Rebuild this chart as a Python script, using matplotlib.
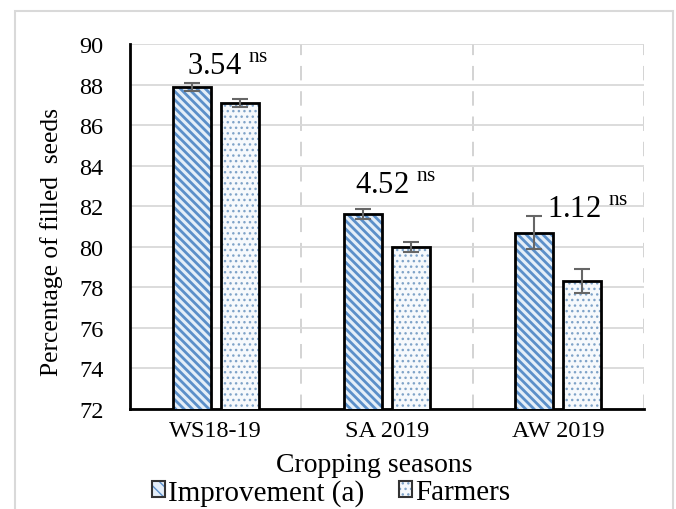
import matplotlib
matplotlib.use('Agg')
import matplotlib.pyplot as plt
import matplotlib.patches as mpatches
import numpy as np

# 数据
seasons = ['WS18-19', 'SA 2019', 'AW 2019']
improvement = [87.9, 81.6, 80.7]
improvement_err = [0.2, 0.25, 0.8]
farmers = [87.1, 80.0, 78.3]
farmers_err = [0.2, 0.25, 0.6]
t_values = ['3.54', '4.52', '1.12']
t_label_x = [0.07, 1.05, 2.17]
t_label_y = [88.9, 83.0, 81.85]

plt.rcParams['font.family'] = ['Liberation Serif', 'DejaVu Serif']
plt.rcParams['mathtext.fontset'] = 'custom'
plt.rcParams['mathtext.rm'] = 'Liberation Serif'

stripe_blue = '#5b8fc9'
dot_blue = '#7fa3c8'

fig = plt.figure(figsize=(6.76, 5.10), dpi=100)
ax = fig.add_axes([130 / 676, 1 - 410 / 510, 514 / 676, 365 / 510])

# 外框
fig.patches.append(mpatches.Rectangle((15 / 676, -0.1), 658 / 676, 1.1 - 12 / 510,
                                      transform=fig.transFigure, fill=False,
                                      edgecolor='#d9d9d9', linewidth=1.5))

x = np.arange(len(seasons))
w = 0.22
off = 0.14

# 先画阴影填充，再画黑色边框
with plt.rc_context({'hatch.linewidth': 2.0}):
    ax.bar(x - off, improvement, w, color='#e4eef8', edgecolor=stripe_blue,
           hatch='\\\\\\\\', linewidth=0, zorder=3)
    h1a = mpatches.Patch(facecolor='#e4eef8', edgecolor=stripe_blue, hatch='\\\\\\', linewidth=0)
with plt.rc_context({'hatch.linewidth': 1.0}):
    ax.bar(x + off, farmers, w, color='#f6f9fc', edgecolor=dot_blue,
           hatch='...', linewidth=0, zorder=3)
    h2a = mpatches.Patch(facecolor='#f6f9fc', edgecolor=dot_blue, hatch='...', linewidth=0)
ax.bar(x - off, improvement, w, fill=False, edgecolor='black', linewidth=2, zorder=4)
ax.bar(x + off, farmers, w, fill=False, edgecolor='black', linewidth=2, zorder=4)

ax.errorbar(x - off, improvement, yerr=improvement_err, fmt='none', ecolor='#666666',
            elinewidth=1.5, capsize=6, capthick=1.5, zorder=5)
ax.errorbar(x + off, farmers, yerr=farmers_err, fmt='none', ecolor='#666666',
            elinewidth=1.5, capsize=6, capthick=1.5, zorder=5)

for i in range(len(seasons)):
    ax.text(t_label_x[i], t_label_y[i], t_values[i] + r' $^{\mathrm{ns}}$',
            ha='center', va='center', fontsize=22, zorder=6)

ax.set_xlim(-0.5, 2.5)
ax.set_ylim(72, 90)
ax.set_yticks(np.arange(72, 91, 2))
ax.set_xticks(x)
ax.set_xticklabels(seasons)
ax.tick_params(axis='both', length=0, labelsize=17.5)
ax.tick_params(axis='x', pad=8)
ax.tick_params(axis='y', pad=19)

# 网格线
ax.grid(axis='y', color='#d9d9d9', linewidth=1.3, zorder=0)
for xv in [0.5, 1.5, 2.5]:
    ax.axvline(xv, color='#d0d0d0', linewidth=1.3, linestyle=(0, (8, 6)), zorder=0)

for s in ['top', 'right']:
    ax.spines[s].set_visible(False)
ax.spines['left'].set_linewidth(2)
ax.spines['bottom'].set_linewidth(2)

ax.set_xlabel('Cropping seasons', fontsize=20, va='center')
ax.xaxis.set_label_coords(0.476, -0.151)
ax.set_ylabel('Percentage of filled  seeds', fontsize=18.4, va='center')
ax.yaxis.set_label_coords(-0.152, 0.46)

# 图例
h1 = (h1a, mpatches.Patch(fill=False, edgecolor='#333333', linewidth=1.5))
h2 = (h2a, mpatches.Patch(fill=False, edgecolor='#333333', linewidth=1.5))
fig.legend([h1, h2], ['Improvement (a)', 'Farmers'], loc='center',
           bbox_to_anchor=(0.49, 0.033), ncol=2, frameon=False,
           prop={'family': 'Liberation Serif', 'size': 21},
           handlelength=0.45, handleheight=0.45, handletextpad=0.1, columnspacing=1.2,
           borderpad=0)

plt.savefig('out.png', dpi=100)
